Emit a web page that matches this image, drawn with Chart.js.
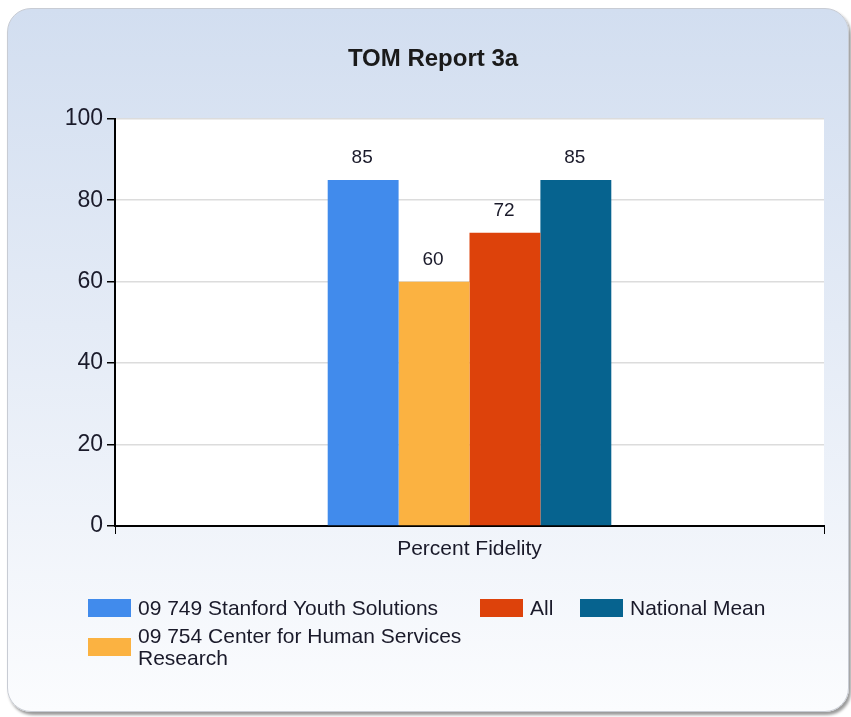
<!DOCTYPE html>
<html>
<head>
<meta charset="utf-8">
<script src="https://cdn.jsdelivr.net/npm/chart.js@4/dist/chart.umd.min.js"></script>
<style>
  html, body { margin: 0; padding: 0; background: #ffffff; }
  #wrap { position: relative; width: 851px; height: 717px; overflow: hidden; font-family: "Liberation Sans", Arial, sans-serif; }
  #card { position: absolute; left: 7px; top: 8px; width: 840px; height: 702px; border-radius: 24px;
          background: linear-gradient(to bottom, #d2def0 0%, #e4ebf6 45%, #fbfcfe 100%);
          border: 1px solid #c8ccd4; box-shadow: 2px 3px 3px rgba(0,0,0,0.4); }
  #c { position: absolute; left: 0; top: 0; }
  #legend { position: absolute; left: 0; top: 0; width: 851px; height: 717px; pointer-events: none; }
  .item { position: absolute; display: flex; align-items: flex-start; font-size: 21px; color: #1a1a2a; line-height: 22px; }
  .sw { width: 43px; height: 18px; margin-right: 7px; margin-top: 2px; flex: none; }
</style>
</head>
<body>
<div id="wrap">
  <div id="card"></div>
  <canvas id="c" width="851" height="717"></canvas>
  <div id="legend"></div>
</div>
<script>
const chartTitle = 'TOM Report 3a';
const categories = ['Percent Fidelity'];
const seriesNames = ['09 749 Stanford Youth Solutions', '09 754 Center for Human Services Research', 'All', 'National Mean'];
const stanfordValues = [85];
const centerValues = [60];
const allValues = [72];
const nationalMeanValues = [85];
const yTicks = [0, 20, 40, 60, 80, 100];
const seriesColors = ['#418bec', '#fbb241', '#dd420b', '#06638f'];

const seriesValues = [stanfordValues, centerValues, allValues, nationalMeanValues];

const plotBg = {
  id: 'plotBg',
  beforeDraw(chart) {
    const a = chart.chartArea, ctx = chart.ctx;
    ctx.save(); ctx.fillStyle = '#ffffff';
    ctx.fillRect(a.left, a.top, a.right - a.left, a.bottom - a.top);
    ctx.restore();
  }
};
const valueLabels = {
  id: 'valueLabels',
  afterDatasetsDraw(chart) {
    const ctx = chart.ctx;
    ctx.save();
    ctx.font = '19px "Liberation Sans", Arial, sans-serif';
    ctx.fillStyle = '#1a1a2a';
    ctx.textAlign = 'center'; ctx.textBaseline = 'middle';
    chart.data.datasets.forEach((ds, i) => {
      chart.getDatasetMeta(i).data.forEach((bar, j) => {
        ctx.fillText(String(ds.data[j]), bar.x - 1, bar.y - 22);
      });
    });
    ctx.restore();
  }
};

const chart = new Chart(document.getElementById('c'), {
  type: 'bar',
  data: {
    labels: categories,
    datasets: seriesNames.map((n, i) => ({
      label: n, data: seriesValues[i], backgroundColor: seriesColors[i],
      borderWidth: 0, categoryPercentage: 0.4, barPercentage: 1.0
    }))
  },
  options: {
    responsive: false, animation: false,
    layout: { padding: { left: 42, right: 27, top: 0, bottom: 0 } },
    plugins: {
      legend: { display: false },
      tooltip: { enabled: false },
      title: { display: true, text: chartTitle, color: '#1a1a1a',
               font: { family: '"Liberation Sans", Arial, sans-serif', size: 24, weight: 'bold' },
               padding: { top: 45, bottom: 45 } }
    },
    scales: {
      x: {
        grid: { display: true, drawOnChartArea: false, drawTicks: true, tickLength: 8, color: '#000000', offset: true },
        border: { display: true, color: '#000000', width: 2 },
        ticks: { color: '#1a1a2a', padding: 3, font: { family: '"Liberation Sans", Arial, sans-serif', size: 21 } },
        afterFit(s) { s.height = 191; }
      },
      y: {
        min: 0, max: 100,
        afterBuildTicks(s) { s.ticks = yTicks.map(v => ({ value: v })); },
        grid: { color: '#dcdcdc', lineWidth: 1.5, tickColor: '#000000', tickLength: 8, drawTicks: true },
        border: { display: true, color: '#000000', width: 2 },
        ticks: { color: '#1a1a2a', padding: 4, font: { family: '"Liberation Sans", Arial, sans-serif', size: 23 } },
        afterFit(s) { s.width = 73; }
      }
    }
  },
  plugins: [plotBg, valueLabels]
});

// HTML legend built from the series arrays
const legendPos = [
  { left: 88, top: 597, width: 400 },
  { left: 88, top: 625, width: 385 },
  { left: 480, top: 597, width: 90 },
  { left: 580, top: 597, width: 240 }
];
const leg = document.getElementById('legend');
seriesNames.forEach((n, i) => {
  const d = document.createElement('div');
  d.className = 'item';
  d.style.left = legendPos[i].left + 'px';
  d.style.top = legendPos[i].top + 'px';
  d.style.width = legendPos[i].width + 'px';
  const sw = document.createElement('div');
  sw.className = 'sw'; sw.style.background = seriesColors[i];
  if (i === 1) sw.style.marginTop = '13px';
  const t = document.createElement('span');
  t.textContent = n;
  d.appendChild(sw); d.appendChild(t);
  leg.appendChild(d);
});
</script>
</body>
</html>
